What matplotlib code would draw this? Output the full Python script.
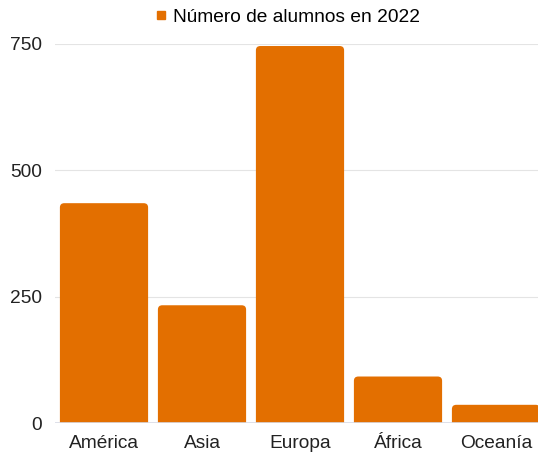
import matplotlib.pyplot as plt
from matplotlib.patches import FancyBboxPatch
from matplotlib.lines import Line2D

regions = ['América', 'Asia', 'Europa', 'África', 'Oceanía']
alumnos = [435, 233, 746, 92, 36]
series_name = 'Número de alumnos en 2022'
yticks = [0, 250, 500, 750]

plt.rcParams['font.family'] = ['Liberation Sans', 'DejaVu Sans']
color = '#e36f00'

fig = plt.figure(figsize=(5.38, 4.58), dpi=100)
ax = fig.add_axes([55/538, 35/458, 490/538, 379/458])

bars = ax.bar(range(len(regions)), alumnos, width=0.9, color=color)
# swap plain bars for rounded-corner ones (bottom pushed below 0 so it gets clipped)
for b in bars:
    x, w, h = b.get_x(), b.get_width(), b.get_height()
    p = FancyBboxPatch((x, -20), w, h + 20,
                       boxstyle='round,pad=0,rounding_size=0.045',
                       mutation_aspect=190, facecolor=color, edgecolor='none',
                       zorder=3, clip_on=True)
    ax.add_patch(p)
    b.set_visible(False)

ax.set_xlim(-0.5, 4.5)
ax.set_ylim(0, 750)
ax.set_yticks(yticks)
ax.set_xticks(range(len(regions)))
ax.set_xticklabels(regions)
ax.tick_params(axis='both', length=0, labelsize=13.8, colors='#222222')
ax.tick_params(axis='y', pad=9.5)
ax.tick_params(axis='x', pad=9)
ax.grid(axis='y', color='#e4e4e4', linewidth=0.8, zorder=0)
ax.axhline(0, color='#d8dbe6', linewidth=1.2, zorder=4)
for s in ax.spines.values():
    s.set_visible(False)

handle = Line2D([], [], marker='s', linestyle='none', markersize=6,
                markerfacecolor=color, markeredgecolor=color)
fig.legend([handle], [series_name], loc='center', bbox_to_anchor=(286/538, 1 - 17/458),
           frameon=False, fontsize=13.8, handletextpad=0.2, handlelength=0.9)

fig.savefig('out.png', dpi=100)
